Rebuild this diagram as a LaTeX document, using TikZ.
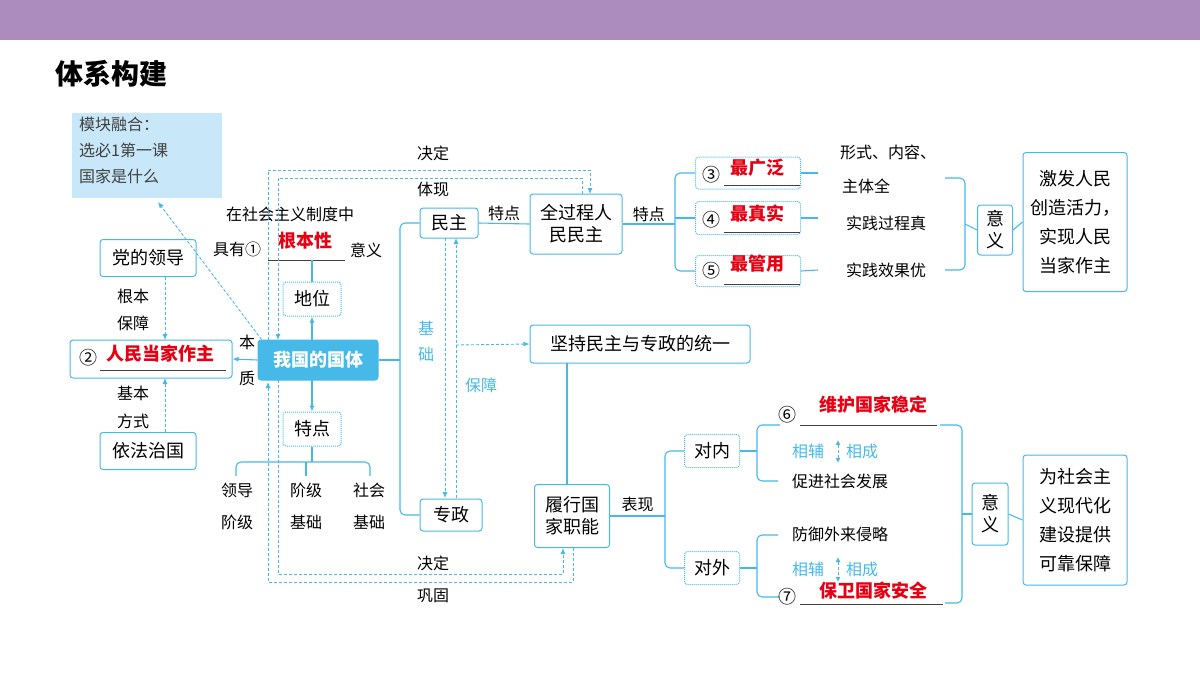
\documentclass[tikz,border=0pt]{standalone}
\usepackage{fontspec}
\setmainfont{Noto Sans CJK SC}
\usepackage{xcolor}
\usetikzlibrary{arrows.meta, positioning}
\definecolor{lblue}{RGB}{70,185,232}
\definecolor{lfill}{RGB}{200,232,250}
\definecolor{hbar}{RGB}{172,140,190}
\definecolor{ansred}{RGB}{230,0,18}
\tikzset{
  box/.style={draw=lblue, line width=1pt, rounded corners=3pt, inner sep=3pt, font=\fontsize{18}{22}\selectfont, align=center},
  dbox/.style={box, densely dotted},
  lab/.style={inner sep=1pt, font=\fontsize{16}{18}\selectfont},
  blab/.style={lab, text=lblue},
  ans/.style={inner sep=1pt, text=ansred, font=\fontsize{18}{20}\selectfont\bfseries},
  link/.style={draw=lblue, line width=1.1pt, rounded corners=5pt},
  dlink/.style={draw=lblue, line width=0.9pt, densely dashed, -{Latex[length=6pt,width=5pt]}},
  uline/.style={draw=black!75, line width=0.8pt}
}
\begin{document}
\begin{tikzpicture}[x=1pt, y=-1pt]
  \useasboundingbox (0,0) rectangle (1200,675);
  \fill[hbar] (0,0) rectangle (1200,40);
  \node[anchor=west, font=\fontsize{28}{30}\selectfont\bfseries] (title) at (52,74) {体系构建};

  % left part
  \node[fill=lfill, minimum width=150pt, minimum height=85pt, anchor=north west] (modbg) at (72,113) {};
  \node[anchor=north west, align=left, lab, text=black!75, font=\fontsize{16}{26}\selectfont] (mod) at (78,116) {模块融合：\\选必1第一课\\国家是什么};
  \node[box, minimum width=96pt, minimum height=37pt] (lead) at (148,258) {党的领导};
  \node[box, minimum width=162pt, minimum height=38pt] (master) at (151,359) {};
  \node[lab, font=\fontsize{18}{20}\selectfont] (n2) at (88,358) {②};
  \node[ans] (a2) at (160,354) {人民当家作主};
  \draw[uline] (100,370) -- (226,370);
  \node[box, minimum width=96pt, minimum height=37pt] (law) at (148,451) {依法治国};
  \node[box, fill=lblue, text=white, font=\fontsize{18}{22}\selectfont\bfseries, minimum width=120pt, minimum height=40pt] (ourst) at (318,360) {我国的国体};
  \node[dbox, minimum width=58pt, minimum height=34pt] (pos) at (312,299) {地位};
  \node[dbox, minimum width=58pt, minimum height=34pt] (feat) at (312,429) {特点};

  \node[lab] (t1) at (290,214) {在社会主义制度中};
  \node[lab] (t2) at (237,249) {具有①};
  \node[ans] (a1) at (305,241) {根本性};
  \draw[uline] (268,260) -- (345,260);
  \node[lab] (t3) at (366,250) {意义};
  \node[lab] (ben) at (247,342) {本};
  \node[lab] (zhi) at (247,378) {质};
  \node[lab] (g1) at (133,296) {根本};
  \node[lab] (g2) at (133,323) {保障};
  \node[lab] (j1) at (133,393) {基本};
  \node[lab] (j2) at (133,421) {方式};

  \draw[dlink] (ourst.north west) ++(4,0) -- (158,202);
  \draw[link, -{Latex[length=6pt,width=5pt]}] (ourst.west) -- (master.east);
  \draw[dlink] (165,277) -- (165,340);
  \draw[dlink] (165,432) -- (165,378);
  \draw[link, -{Latex[length=6pt,width=5pt]}] (312,340) -- (pos.south);
  \draw[link] (pos.north) -- (312,260);
  \draw[link, -{Latex[length=6pt,width=5pt]}] (312,380) -- (feat.north);
  \draw[link] (feat.south) -- (312,462);
  \draw[link] (236,476) -- (236,462) -- (370,462) -- (370,476);
  \draw[link] (306,462) -- (306,476);
  \node[lab] (f1) at (237,490) {领导};
  \node[lab] (f2) at (237,522) {阶级};
  \node[lab] (f3) at (306,490) {阶级};
  \node[lab] (f4) at (306,522) {基础};
  \node[lab] (f5) at (369,490) {社会};
  \node[lab] (f6) at (369,522) {基础};

  % democracy and dictatorship
  \node[box, minimum width=58pt, minimum height=30pt] (demo) at (449,223) {民主};
  \node[box, minimum width=62pt, minimum height=32pt] (dict) at (451,515) {专政};
  \draw[link] (ourst.east) -- (400,360);
  \draw[link] (demo.west) -| (400,360) |- (dict.west);
  \draw[dlink] (445,238) -- (445,498);
  \draw[dlink] (456,498) -- (456,238);
  \node[blab] (b1) at (426,328) {基};
  \node[blab] (b2) at (426,354) {础};
  \node[blab] (bz) at (481,385) {保障};
  \node[lab] (tx) at (433,189) {体现};
  \node[lab] (jd1) at (433,153) {决定};
  \node[lab] (jd2) at (433,563) {决定};
  \node[lab] (gg) at (433,596) {巩固};

  \node[box, minimum width=92pt, minimum height=60pt] (whole) at (576,224) {全过程人\\民民主};
  \draw[link] (demo.east) -- node[lab, above=1pt] {特点} (whole.west);
  \draw[dlink] (268,340) -- (268,170) -- (590,170) -- (590,194);
  \draw[dlink] (582,194) -- (582,178) -- (278,178) -- (278,340);

  \node[box, minimum width=220pt, minimum height=38pt] (unity) at (640,344) {坚持民主与专政的统一};
  \draw[dlink] (456,345) -- (unity.west);
  \node[box, minimum width=75pt, minimum height=63pt] (func) at (572,516) {履行国\\家职能};
  \draw[link] (567,363) -- (567,485);
  \draw[dlink] (278,380) -- (278,574) -- (563,574) -- (563,548);
  \draw[dlink] (573,548) -- (573,582) -- (268,582) -- (268,382);

  % top right
  \draw[link] (whole.east) -- node[lab, above=1pt] {特点} (675,224);
  \node[dbox, minimum width=105pt, minimum height=32pt] (f3b) at (748,173) {};
  \node[dbox, minimum width=105pt, minimum height=33pt] (f4b) at (748,218) {};
  \node[dbox, minimum width=105pt, minimum height=31pt] (f5b) at (748,271) {};
  \draw[link] (f3b.west) -| (675,224) |- (f5b.west);
  \draw[link] (675,218) -- (f4b.west);
  \node[lab, font=\fontsize{18}{20}\selectfont] (n3) at (711,175) {③};
  \node[ans] (a3) at (757,168) {最广泛};
  \draw[uline] (724,185) -- (800,185);
  \node[lab, font=\fontsize{18}{20}\selectfont] (n4) at (711,220) {④};
  \node[ans] (a4) at (757,214) {最真实};
  \draw[uline] (724,232) -- (800,232);
  \node[lab, font=\fontsize{18}{20}\selectfont] (n5) at (711,271) {⑤};
  \node[ans] (a5) at (757,264) {最管用};
  \draw[uline] (724,284) -- (800,284);
  \node[lab] (r1) at (888,152) {形式、内容、};
  \node[lab] (r2) at (866,186) {主体全};
  \node[lab] (r3) at (886,223) {实践过程真};
  \node[lab] (r4) at (886,270) {实践效果优};
  \draw[link] (f3b.east) -- (818,173);
  \draw[link] (f4b.east) -- (818,218);
  \draw[link] (f5b.east) -- (818,270);
  \draw[link] (945,178) -- (965,178) -- (965,270) -- (945,270);
  \node[box, minimum width=35pt, minimum height=50pt] (yi1) at (995,230) {意\\义};
  \draw[link] (965,224) -- (yi1.west);
  \node[box, minimum width=104pt, minimum height=139pt, font=\fontsize{18}{29}\selectfont] (res1) at (1075,222) {激发人民\\创造活力，\\实现人民\\当家作主};
  \draw[link] (yi1.east) -- (res1.west);

  % bottom right
  \draw[link] (func.east) -- node[lab, above=3pt] {表现} (665,516);
  \node[dbox, minimum width=55pt, minimum height=33pt] (inner) at (712,451) {对内};
  \node[dbox, minimum width=55pt, minimum height=33pt] (outer) at (712,568) {对外};
  \draw[link] (inner.west) -| (665,516) |- (outer.west);
  \draw[link] (inner.east) -- (757,451);
  \draw[link] (780,425) -| (757,451) |- (778,481);
  \draw[link] (outer.east) -- (757,568);
  \draw[link] (778,535) -| (757,568) |- (780,597);
  \node[lab, font=\fontsize{18}{20}\selectfont] (n6) at (787,415) {⑥};
  \node[ans] (a6) at (873,405) {维护国家稳定};
  \draw[uline] (800,425) -- (937,425);
  \node[lab] (i2) at (840,481) {促进社会发展};
  \node[blab] (i3) at (808,451) {相辅};
  \node[blab] (i4) at (862,451) {相成};
  \draw[draw=lblue, line width=0.9pt, densely dashed, {Latex[length=5pt,width=5pt]}-{Latex[length=5pt,width=5pt]}] (838,440) -- (838,463);
  \node[lab] (o1) at (840,534) {防御外来侵略};
  \node[lab, font=\fontsize{18}{20}\selectfont] (n7) at (787,597) {⑦};
  \node[ans] (a7) at (873,591) {保卫国家安全};
  \draw[uline] (800,604) -- (943,604);
  \node[blab] (o3) at (808,569) {相辅};
  \node[blab] (o4) at (862,569) {相成};
  \draw[draw=lblue, line width=0.9pt, densely dashed, {Latex[length=5pt,width=5pt]}-{Latex[length=5pt,width=5pt]}] (838,557) -- (838,582);
  \draw[link] (940,425) -- (962,425) -- (962,603) -- (945,603);
  \node[box, minimum width=36pt, minimum height=62pt] (yi2) at (990,514) {意\\义};
  \draw[link] (962,514) -- (yi2.west);
  \node[box, minimum width=104pt, minimum height=130pt, font=\fontsize{18}{29}\selectfont] (res2) at (1075,520) {为社会主\\义现代化\\建设提供\\可靠保障};
  \draw[link] (yi2.east) -- (res2.west);
\end{tikzpicture}
\end{document}
